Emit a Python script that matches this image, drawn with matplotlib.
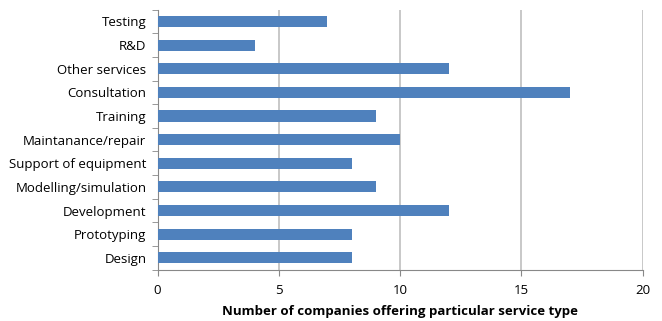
import numpy as np
import matplotlib.pyplot as plt

# categorias (de baixo para cima) e número de empresas
servicos = ["Design", "Prototyping", "Development", "Modelling/simulation",
            "Support of equipment", "Maintanance/repair", "Training",
            "Consultation", "Other services", "R&D", "Testing"]
empresas = [8, 8, 12, 9, 8, 10, 9, 17, 12, 4, 7]
xticks = [0, 5, 10, 15, 20]

plt.rcParams['font.family'] = ['Open Sans', 'DejaVu Sans']

fig = plt.figure(figsize=(6.62, 3.21), dpi=100)
ax = fig.add_axes([0.238, 0.16, 0.733, 0.81])

y = np.arange(len(servicos))
ax.barh(y, empresas, height=0.47, color='#4F81BD', zorder=3)

ax.set_xlim(0, 20)
ax.set_ylim(-0.5, len(servicos) - 0.5)
ax.set_xticks(xticks)
ax.set_xticklabels([str(t) for t in xticks], fontsize=9.5)
ax.set_yticks(y)
ax.set_yticklabels(servicos, fontsize=9.5)
ax.set_yticks(np.arange(-0.5, len(servicos), 1), minor=True)
ax.tick_params(axis='y', which='major', length=0, pad=8)
ax.tick_params(axis='y', which='minor', length=4, color='#888888')
ax.tick_params(axis='x', length=4, color='#888888', pad=6)

ax.grid(axis='x', color='#BFBFBF', linewidth=1.2, zorder=0)
for s in ['top', 'right']:
    ax.spines[s].set_visible(False)
for s in ['left', 'bottom']:
    ax.spines[s].set_color('#888888')

ax.set_xlabel("Number of companies offering particular service type",
              fontsize=9.5, fontweight='bold', labelpad=6)

fig.savefig("out.png", dpi=100)
